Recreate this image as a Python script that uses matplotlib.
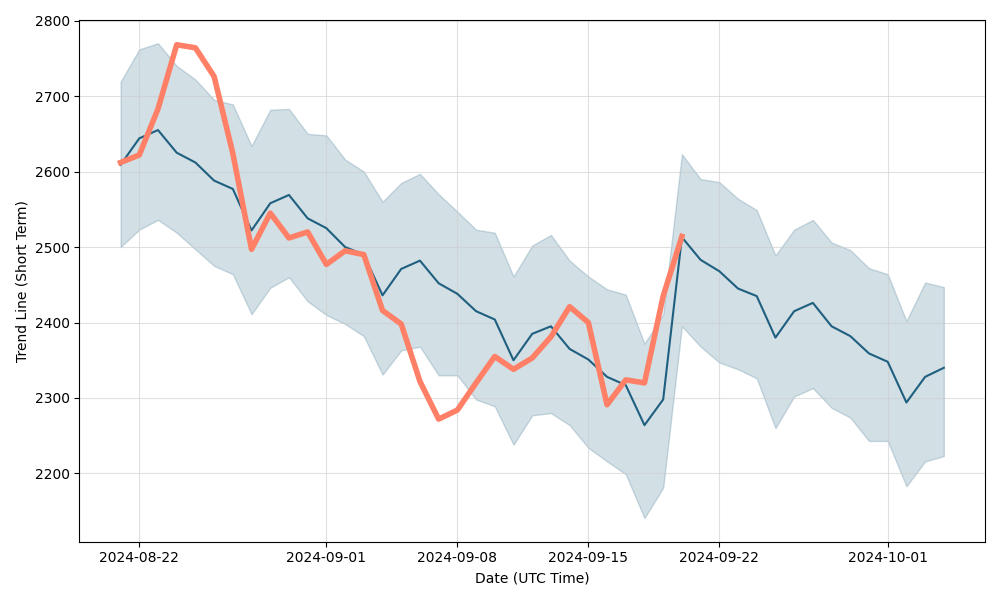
import matplotlib
matplotlib.use("Agg")
import matplotlib.pyplot as plt
import numpy as np
import pandas as pd

# daily dates, 2024-08-21 .. 2024-10-04
dates = pd.date_range("2024-08-21", "2024-10-04", freq="D")

# trend line (mean)
trend = [2609, 2644, 2655, 2625, 2612, 2588, 2577, 2522, 2558, 2569,
         2538, 2525, 2500, 2490, 2436, 2471, 2482, 2452, 2438, 2415,
         2404, 2350, 2385, 2395, 2365, 2351, 2328, 2317, 2264, 2298,
         2513, 2483, 2468, 2445, 2435, 2380, 2415, 2426, 2395, 2382,
         2359, 2348, 2294, 2328, 2340]

# upper / lower band
upper = [2719, 2762, 2770, 2740, 2722, 2695, 2689, 2634, 2682, 2683,
         2650, 2648, 2616, 2600, 2560, 2585, 2597, 2570, 2547, 2523,
         2519, 2461, 2502, 2516, 2482, 2461, 2444, 2437, 2372, 2411,
         2623, 2590, 2586, 2564, 2549, 2489, 2523, 2536, 2506, 2496,
         2472, 2464, 2402, 2453, 2447]

lower = [2500, 2523, 2536, 2519, 2497, 2475, 2464, 2411, 2446, 2460,
         2428, 2410, 2398, 2382, 2331, 2363, 2368, 2330, 2330, 2298,
         2289, 2238, 2277, 2280, 2264, 2234, 2216, 2199, 2141, 2181,
         2395, 2368, 2347, 2338, 2326, 2260, 2302, 2313, 2287, 2274,
         2243, 2243, 2183, 2216, 2223]

# actual price, 2024-08-21 .. 2024-09-20
actual = [2612, 2622, 2683, 2768, 2764, 2726, 2624, 2497, 2545, 2512,
          2520, 2477, 2495, 2490, 2416, 2398, 2322, 2272, 2284, 2320,
          2355, 2338, 2353, 2381, 2421, 2400, 2291, 2324, 2320, 2435,
          2514]

band_color = "#1f5f7f"
actual_color = "#ff8066"

fig, ax = plt.subplots(figsize=(10, 6), dpi=100)

ax.fill_between(dates, lower, upper, color=band_color, alpha=0.2)
ax.plot(dates, trend, color=band_color, linewidth=1.5)
ax.plot(dates[:len(actual)], actual, color=actual_color, linewidth=4)

ax.grid(True, color="#cccccc", alpha=0.6)
ax.set_xlabel("Date (UTC Time)")
ax.set_ylabel("Trend Line (Short Term)")

plt.tight_layout()
plt.savefig("out.png")
